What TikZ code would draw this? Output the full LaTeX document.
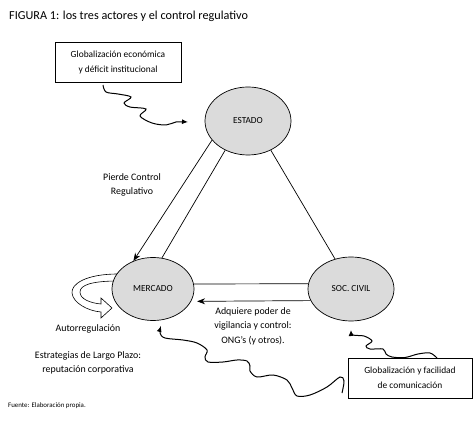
\documentclass[tikz,border=0pt]{standalone}
\usepackage{fontspec}
\setmainfont{Carlito}
\usetikzlibrary{shapes.geometric,arrows.meta,shadows}
\begin{document}
\begin{tikzpicture}[x=1pt,y=-1pt,
  actor/.style={ellipse,draw,line width=0.7pt,fill=gray!28,font=\fontsize{9.3}{10}\selectfont,inner sep=0pt},
  gbox/.style={rectangle,draw,line width=0.7pt,fill=white,align=center,inner sep=0pt,
    font=\fontsize{9.4}{15}\selectfont,
    drop shadow={shadow xshift=0.9pt,shadow yshift=-0.9pt,fill=black!65,opacity=1}},
  lbl/.style={align=center,font=\fontsize{9.9}{14.5}\selectfont,inner sep=0pt},
  conn/.style={line width=0.7pt},
  wave/.style={line width=1pt,-{Latex[length=6pt,width=5pt]}},
  hollow/.style={line width=0.6pt,fill=white},
]
\useasboundingbox (0,0) rectangle (476,427);

% title
\node[anchor=west,inner sep=0pt,font=\fontsize{12.2}{14}\selectfont] (title) at (9,16) {FIGURA 1: los tres actores y el control regulativo};

% self-regulation block arrow (drawn under MERCADO)
\draw[hollow] (118,274) .. controls (86,274) and (71,284) .. (72,293)
  .. controls (73,303) and (88,311) .. (101,312) -- (101,318) -- (112,308)
  -- (101,298) -- (101,304) .. controls (90,303) and (80,299) .. (80,292)
  .. controls (80,285) and (92,281) .. (118,281);

% actors
\node[actor,minimum width=86pt,minimum height=68pt] (estado) at (248,121) {ESTADO};
\node[actor,minimum width=82pt,minimum height=63pt] (mercado) at (153,289) {MERCADO};
\node[actor,minimum width=86pt,minimum height=64pt] (soc) at (351,289) {SOC. CIVIL};

% boxes
\node[gbox,minimum width=126pt,minimum height=40pt] (topbox) at (118,62) {Globalización económica\\ y déficit institucional};
\node[gbox,minimum width=124pt,minimum height=40pt] (botbox) at (410,378) {Globalización y facilidad\\ de comunicación};

% triangle connectors
\draw[conn,-{Stealth[length=8pt,width=6pt]}] (estado.208) -- (mercado.125);
\draw[conn] (estado.232) -- (mercado.74);
\draw[conn] (estado.308) -- (soc.118);
\draw[conn] (mercado.7) -- (soc.173.3);
\draw[conn,-{Stealth[length=8pt,width=6pt]},shorten >=6pt] (soc.196.8) -- (mercado.342.4);

% labels
\node[lbl] (pierde) at (132,185) {Pierde Control\\Regulativo};
\node[lbl] (adquiere) at (253,326) {Adquiere poder de\\vigilancia y control:\\ONG’s (y otros).};
\node[lbl] (auto) at (88,329) {Autorregulación};
\node[lbl] (estrat) at (88,363) {Estrategias de Largo Plazo:\\reputación corporativa};
\node[anchor=west,inner sep=0pt,font=\fontsize{6.9}{8}\selectfont] (fuente) at (8,406) {Fuente: Elaboración propia.};

% wavy influence arrows
\coordinate (w1s) at (103,85);
\coordinate (w1e) at (188,122);
\draw[wave] plot[smooth,tension=0.55] coordinates {(w1s) (106,92) (118,94) (131,97) (124,103) (130,107) (146,109) (140,116) (152,123) (166,125) (176,122) (w1e)};

\coordinate (w2s) at (342,393);
\coordinate (w2e) at (161,326);
\draw[wave] plot[smooth,tension=0.55] coordinates {(w2s) (344,381) (340,377) (327,387) (310,395) (297,396) (292,388) (287,380) (273,375) (257,377) (250,371) (250,366) (247,361) (237,360) (223,362) (208,362) (205,357) (207,350) (197,343) (183,340) (165,338) (160,333) (w2e)};

\coordinate (w3s) at (437,358);
\coordinate (w3e) at (351,330);
\draw[wave] plot[smooth,tension=0.55] coordinates {(w3s) (430,353) (418,354) (405,357.5) (392,357) (386,354) (383,349) (370,349) (366,346) (372,341) (364,336) (353,335) (w3e)};
\end{tikzpicture}
\end{document}
